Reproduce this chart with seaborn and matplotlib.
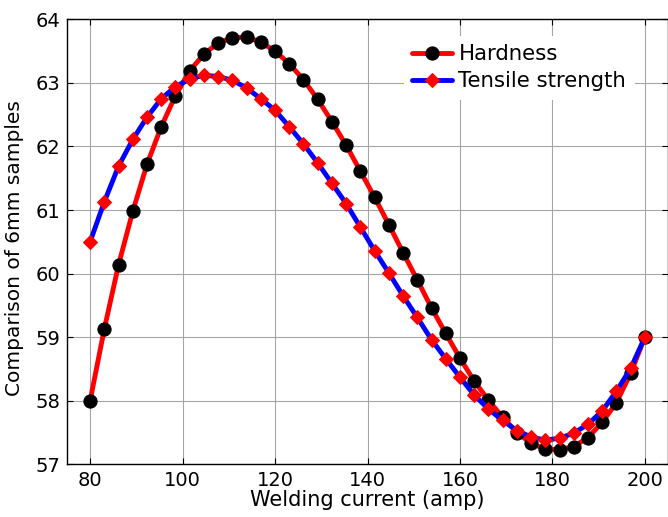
import numpy as np
import pandas as pd
import matplotlib
matplotlib.use("Agg")
import matplotlib.pyplot as plt
import seaborn as sns

# Welding current samples (40 evenly spaced points between 80 and 200 amp)
current = np.linspace(80, 200, 40)

hardness = [58.00, 59.13, 60.14, 60.98, 61.72, 62.31, 62.80, 63.19, 63.45, 63.63,
            63.71, 63.72, 63.64, 63.50, 63.30, 63.05, 62.74, 62.39, 62.02, 61.61,
            61.20, 60.77, 60.33, 59.90, 59.46, 59.06, 58.67, 58.31, 58.01, 57.74,
            57.50, 57.33, 57.24, 57.23, 57.28, 57.42, 57.66, 57.97, 58.43, 59.00]

tensile = [60.50, 61.13, 61.69, 62.11, 62.46, 62.75, 62.94, 63.06, 63.12, 63.10,
           63.04, 62.92, 62.75, 62.57, 62.31, 62.04, 61.74, 61.42, 61.10, 60.73,
           60.36, 60.01, 59.65, 59.31, 58.96, 58.66, 58.37, 58.09, 57.87, 57.69,
           57.53, 57.43, 57.38, 57.41, 57.49, 57.63, 57.84, 58.15, 58.51, 59.00]

x_ticks = [80, 100, 120, 140, 160, 180, 200]
y_ticks = [57, 58, 59, 60, 61, 62, 63, 64]

sns.set_style("white")
plt.rcParams["font.family"] = ["DejaVu Sans"]
plt.rcParams["text.color"] = "black"
plt.rcParams["axes.labelcolor"] = "black"

df = pd.DataFrame({"Welding current (amp)": current,
                   "Hardness": hardness,
                   "Tensile strength": tensile})

fig = plt.figure(figsize=(6.68, 5.17), dpi=100)
ax = fig.add_axes([67 / 668, 52.7 / 517, 601 / 668, 445 / 517])

sns.lineplot(df, x="Welding current (amp)", y="Hardness", ax=ax, color="red", linewidth=3.5,
             marker="o", markersize=9.5, markerfacecolor="black", markeredgecolor="black",
             label="Hardness", zorder=3)
sns.lineplot(df, x="Welding current (amp)", y="Tensile strength", ax=ax, color="blue", linewidth=3.5,
             marker="D", markersize=7, markerfacecolor="red", markeredgecolor="red",
             label="Tensile strength", zorder=4)

ax.set_xlim(75, 205)
ax.set_ylim(57, 64)
ax.set_xticks(x_ticks)
ax.set_yticks(y_ticks)
ax.tick_params(direction="in", length=4, width=0.8, labelsize=14, colors="black",
               top=True, right=True, bottom=True, left=True, pad=5)
ax.grid(True, color="#a6a6a6", linewidth=0.8, linestyle="-")
for side in ax.spines.values():
    side.set_color("black")
    side.set_linewidth(1.0)

ax.set_xlabel("Welding current (amp)", fontsize=15, labelpad=0)
ax.set_ylabel("Comparison of 6mm samples", fontsize=14.5)
ax.yaxis.set_label_coords(-0.072, 0.485)

leg = ax.legend(loc="upper left", bbox_to_anchor=(0.56, 0.963), borderaxespad=0,
                fontsize=15.3, frameon=True, fancybox=False, handlelength=1.9,
                handletextpad=0.28, labelspacing=0.32, borderpad=0.4)
leg.get_frame().set_edgecolor("none")
leg.get_frame().set_facecolor("white")
leg.get_frame().set_alpha(1)

plt.savefig("out.png", dpi=100)
